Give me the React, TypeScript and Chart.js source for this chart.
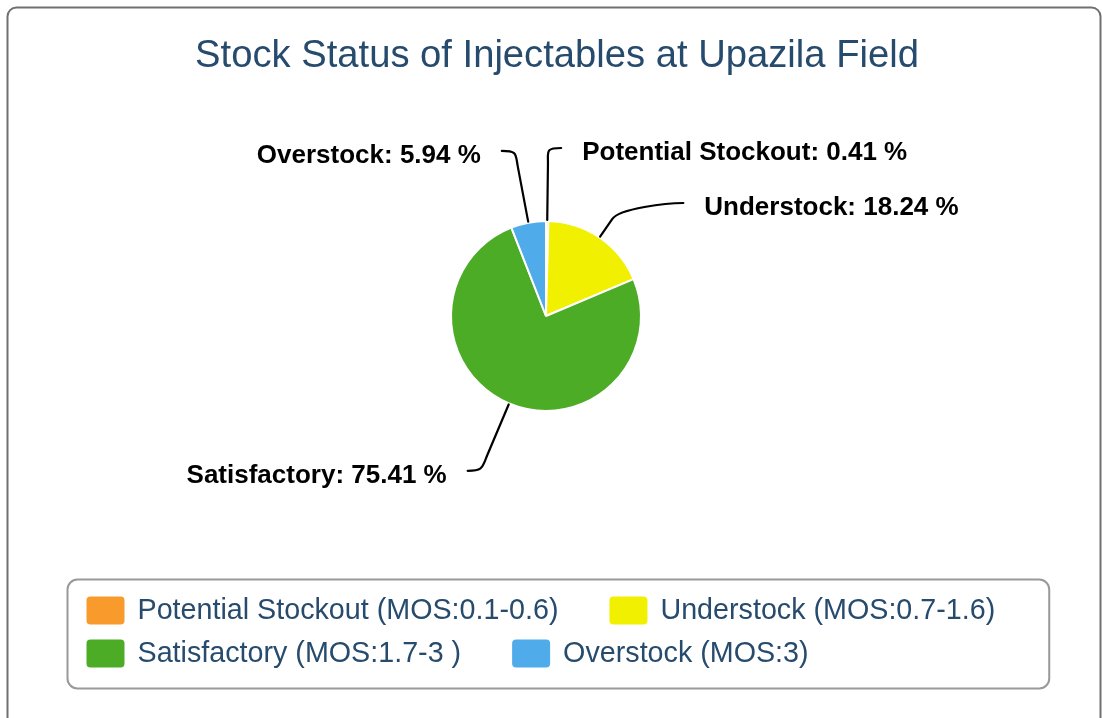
import React, { useEffect, useRef } from "react";
import { Chart, registerables } from "chart.js";

Chart.register(...registerables);

// ---------- data ----------
const TITLE = "Stock Status of Injectables at Upazila Field";
const categories = ["Potential Stockout", "Understock", "Satisfactory", "Overstock"];
const legendLabels = [
  "Potential Stockout (MOS:0.1-0.6)",
  "Understock (MOS:0.7-1.6)",
  "Satisfactory (MOS:1.7-3 )",
  "Overstock (MOS:3)",
];
const shares = [0.41, 18.24, 75.41, 5.94];
const colors = ["#F99B2C", "#F0F000", "#4DAC26", "#50ABEA"];

// ---------- style ----------
const W = 1102;
const H = 718;
const FONT = '"Liberation Sans", Arial, Helvetica, sans-serif';
const TEXT_BLUE = "#274B6D";
const CENTER_X = 557;

const LABEL_DISTANCE = 73;
const LABEL_MIN_GAP = 55;
const CONNECTOR_PAD = 13;
const TEXT_GAP = 21;
const BEND = 16;

function roundRect(ctx: CanvasRenderingContext2D, x: number, y: number, w: number, h: number, r: number) {
  ctx.beginPath();
  ctx.moveTo(x + r, y);
  ctx.lineTo(x + w - r, y);
  ctx.arcTo(x + w, y, x + w, y + r, r);
  ctx.lineTo(x + w, y + h - r);
  ctx.arcTo(x + w, y + h, x + w - r, y + h, r);
  ctx.lineTo(x + r, y + h);
  ctx.arcTo(x, y + h, x, y + h - r, r);
  ctx.lineTo(x, y + r);
  ctx.arcTo(x, y, x + r, y, r);
  ctx.closePath();
}

const decorPlugin = {
  id: "decor",
  beforeDraw(chart: any) {
    const ctx: CanvasRenderingContext2D = chart.ctx;
    ctx.save();
    ctx.fillStyle = "#ffffff";
    ctx.fillRect(0, 0, chart.width, chart.height);
    // outer frame
    roundRect(ctx, 7.5, 7.5, 1093, 740, 9);
    ctx.strokeStyle = "#707070";
    ctx.lineWidth = 2;
    ctx.stroke();
    // title
    ctx.font = `38.2px ${FONT}`;
    ctx.fillStyle = TEXT_BLUE;
    ctx.textAlign = "center";
    ctx.textBaseline = "alphabetic";
    ctx.fillText(TITLE, CENTER_X, 67);
    ctx.restore();
  },
  afterDraw(chart: any) {
    const ctx: CanvasRenderingContext2D = chart.ctx;
    const meta = chart.getDatasetMeta(0);
    ctx.save();

    // ---- data labels with soft connectors ----
    const items = meta.data.map((arc: any, i: number) => {
      const p = arc.getProps(["x", "y", "startAngle", "endAngle", "outerRadius"], true);
      const mid = (p.startAngle + p.endAngle) / 2;
      const R = p.outerRadius + LABEL_DISTANCE;
      const left = Math.cos(mid) < 0;
      return { i, cx: p.x, cy: p.y, r: p.outerRadius, mid, R, left, y: p.y + R * Math.sin(mid), x: 0 };
    });
    [false, true].forEach((side) => {
      const list = items.filter((it: any) => it.left === side).sort((a: any, b: any) => a.y - b.y);
      for (let k = 1; k < list.length; k++) {
        if (list[k].y < list[k - 1].y + LABEL_MIN_GAP) list[k].y = list[k - 1].y + LABEL_MIN_GAP;
      }
    });
    ctx.font = `bold 26px ${FONT}`;
    ctx.textBaseline = "middle";
    items.forEach((it: any) => {
      const dy = Math.max(-it.R, Math.min(it.R, it.y - it.cy));
      const sgn = it.left ? -1 : 1;
      it.x = it.cx + sgn * (Math.sqrt(it.R * it.R - dy * dy) + CONNECTOR_PAD);
      const c = Math.cos(it.mid);
      const s = Math.sin(it.mid);
      const T = { x: it.cx + (it.r + 1) * c, y: it.cy + (it.r + 1) * s };
      const L = { x: it.x, y: it.y };
      const targetY = L.y + (T.y > L.y ? BEND : -BEND);
      let t = Math.abs(s) > 0.05 ? (targetY - T.y) / s : 10;
      if (!(t > 4)) t = 4;
      const B = { x: T.x + t * c, y: T.y + t * s };
      ctx.beginPath();
      ctx.moveTo(L.x, L.y);
      ctx.bezierCurveTo(L.x - sgn * 16, L.y, B.x + c * 13, B.y + s * 13, B.x, B.y);
      ctx.lineTo(T.x, T.y);
      ctx.strokeStyle = "#000000";
      ctx.lineWidth = 2.2;
      ctx.lineCap = "round";
      ctx.stroke();

      ctx.fillStyle = "#000000";
      ctx.textAlign = it.left ? "right" : "left";
      ctx.fillText(`${categories[it.i]}: ${shares[it.i].toFixed(2)} %`, L.x + sgn * TEXT_GAP, L.y + 5);
    });

    // ---- legend ----
    const SW = 38, SH = 28, SP = 13, IG = 51, ROW = 43;
    const PADL = 19, PADR = 54, PADT = 17, PADB = 21;
    const MAXW = 1000;
    const LEGEND_CX = 558;
    ctx.font = `28.7px ${FONT}`;
    const widths = legendLabels.map((t) => ctx.measureText(t).width);
    const rows: number[][] = [];
    let cur: number[] = [];
    let curW = 0;
    widths.forEach((w, i) => {
      const iw = SW + SP + w + IG;
      if (cur.length && curW + iw > MAXW) {
        rows.push(cur);
        cur = [];
        curW = 0;
      }
      cur.push(i);
      curW += iw;
    });
    if (cur.length) rows.push(cur);
    const rowWidth = (r: number[]) => r.reduce((a, i) => a + SW + SP + widths[i] + IG, 0) - IG;
    const contentW = Math.max(...rows.map(rowWidth));
    const boxW = contentW + PADL + PADR;
    const boxH = PADT + (rows.length - 1) * ROW + SH + PADB;
    const boxX = Math.round(LEGEND_CX - boxW / 2) + 0.5;
    const boxY = 579.5;
    roundRect(ctx, boxX, boxY, boxW, boxH, 10);
    ctx.strokeStyle = "#999999";
    ctx.lineWidth = 2;
    ctx.stroke();

    ctx.textAlign = "left";
    ctx.textBaseline = "middle";
    rows.forEach((r, ri) => {
      let x = boxX + PADL;
      const sy = boxY + PADT + ri * ROW;
      r.forEach((i) => {
        roundRect(ctx, x, sy, SW, SH, 4);
        ctx.fillStyle = colors[i];
        ctx.fill();
        ctx.fillStyle = TEXT_BLUE;
        ctx.fillText(legendLabels[i], x + SW + SP, sy + SH / 2 + 1);
        x += SW + SP + widths[i] + IG;
      });
    });

    ctx.restore();
  },
};

export default function App() {
  const ref = useRef<HTMLCanvasElement | null>(null);
  useEffect(() => {
    if (!ref.current) return;
    const chart = new Chart(ref.current, {
      type: "pie",
      data: {
        labels: categories,
        datasets: [
          {
            data: shares,
            backgroundColor: colors,
            borderColor: "#ffffff",
            borderWidth: 2,
            hoverOffset: 0,
          },
        ],
      },
      options: {
        responsive: false,
        animation: false,
        events: [],
        layout: { padding: { left: 450, right: 460, top: 220, bottom: 306 } },
        plugins: {
          legend: { display: false },
          title: { display: false },
          tooltip: { enabled: false },
        },
      },
      plugins: [decorPlugin],
    } as any);
    return () => chart.destroy();
  }, []);
  return (
    <div style={{ position: "fixed", left: 0, top: 0, width: W, height: H, background: "#fff" }}>
      <canvas ref={ref} width={W} height={H} style={{ display: "block" }} />
    </div>
  );
}
